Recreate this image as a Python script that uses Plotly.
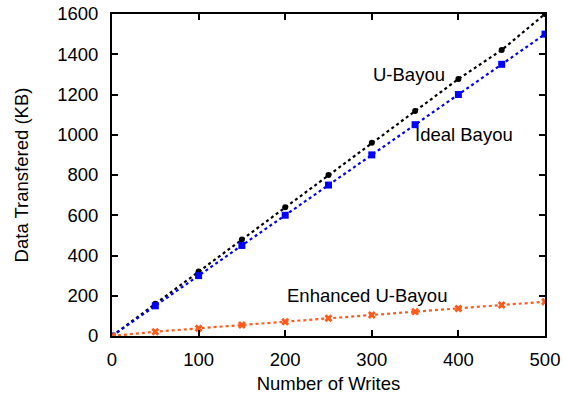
import plotly.graph_objects as go

writes = [0, 50, 100, 150, 200, 250, 300, 350, 400, 450, 500]
u_bayou = [0, 160, 320, 480, 640, 800, 960, 1118, 1277, 1421, 1600]
ideal_bayou = [0, 150, 300, 450, 600, 750, 900, 1050, 1200, 1350, 1500]
enhanced = [0, 21, 38, 55, 71, 88, 104, 121, 137, 154, 170]

fig = go.Figure()
fig.add_trace(go.Scatter(x=writes, y=u_bayou, mode="lines+markers",
                         line=dict(color="black", dash="dot", width=2.2),
                         marker=dict(symbol="circle", size=6, color="black")))
fig.add_trace(go.Scatter(x=writes, y=ideal_bayou, mode="lines+markers",
                         line=dict(color="#0000ff", dash="dot", width=2.2),
                         marker=dict(symbol="square", size=7, color="#0000ff")))
fig.add_trace(go.Scatter(x=writes, y=enhanced, mode="lines+markers",
                         line=dict(color="#ff5a1a", dash="dot", width=2.2),
                         marker=dict(symbol="x", size=7, color="#ff5a1a")))

font = dict(family="Liberation Sans, Arial, sans-serif", size=18.5, color="black")
fig.add_annotation(x=343, y=1297, text="U-Bayou", showarrow=False, font=font)
fig.add_annotation(x=407, y=999, text="Ideal Bayou", showarrow=False, font=font)
fig.add_annotation(x=295, y=199, text="Enhanced U-Bayou", showarrow=False, font=font)

axis_common = dict(showgrid=False, zeroline=False, showline=True, linecolor="black",
                   linewidth=2, mirror="ticks", ticks="inside", ticklen=6,
                   tickwidth=2, tickcolor="black", tickfont=font, automargin=False)
fig.update_xaxes(range=[0, 500], dtick=100, ticklabelstandoff=6,
                 title=dict(text="Number of Writes", font=font, standoff=8),
                 **axis_common)
fig.update_yaxes(range=[0, 1600], dtick=200, ticklabelstandoff=8,
                 title=dict(text="Data Transfered (KB)", font=font, standoff=24),
                 **axis_common)
fig.update_layout(width=566, height=396, margin=dict(l=112, r=21, t=14, b=60),
                  plot_bgcolor="white", paper_bgcolor="white", showlegend=False,
                  font=font)
fig.write_html("out.html")
